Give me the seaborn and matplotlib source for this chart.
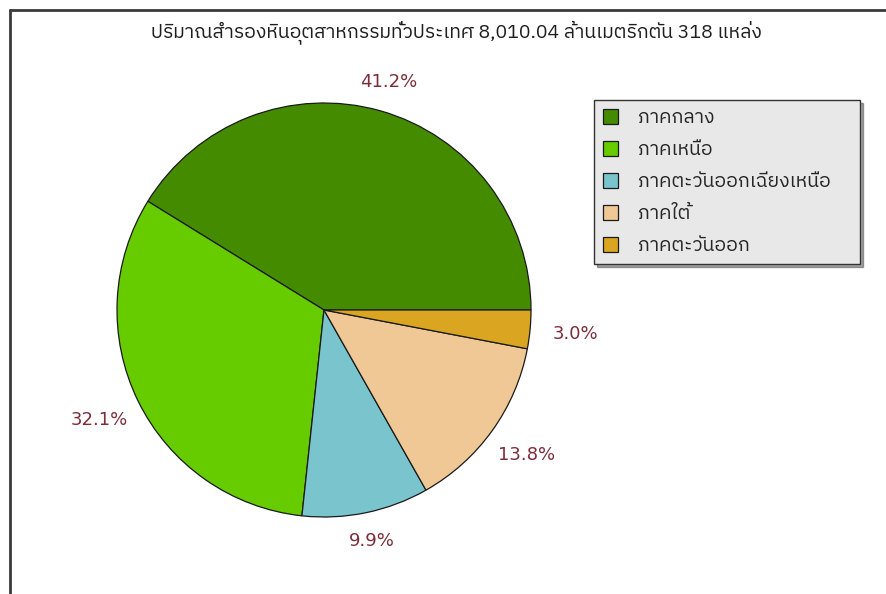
import matplotlib
matplotlib.use("Agg")
import numpy as np
import matplotlib.pyplot as plt
from matplotlib import font_manager
from matplotlib.ft2font import FT2Font
from matplotlib.lines import Line2D
import seaborn as sns

# Reserve data: share of industrial rock reserves by region (%)
regions = ["ภาคกลาง", "ภาคเหนือ", "ภาคตะวันออกเฉียงเหนือ", "ภาคใต้", "ภาคตะวันออก"]
shares = [41.2, 32.1, 9.9, 13.8, 3.0]
colors = ["#458B00", "#66CC00", "#7AC5CD", "#F0C896", "#DAA520"]
title = "ปริมาณสำรองหินอุตสาหกรรมทั่วประเทศ 8,010.04 ล้านเมตริกตัน 318 แหล่ง"

sns.set_theme(style="white")


def thai_families():
    """Names of installed fonts with Thai glyphs, proportional sans first."""
    names = []
    for path in font_manager.findSystemFonts():
        try:
            cmap = FT2Font(path).get_charmap()
        except Exception:
            continue
        if 0x0E01 in cmap and 0x0E32 in cmap and 0x0E34 in cmap:
            name = font_manager.FontProperties(fname=path).get_name()
            if name not in names:
                names.append(name)

    def rank(n):
        low = n.lower()
        r = 0
        if "mono" in low or "courier" in low:
            r += 10
        if "serif" in low and "sans" not in low:
            r += 5
        if "sans" not in low:
            r += 1
        return r

    return sorted(names, key=rank)


families = thai_families()[:1] + ["DejaVu Sans"]
plt.rcParams["font.family"] = families

W, H = 886, 594
fig = plt.figure(figsize=(W / 100, H / 100), dpi=100)

# frame around the chart area
fig.add_artist(Line2D([10 / W, 1.0], [1 - 10 / H, 1 - 10 / H], color="#3a3a3a", lw=2))
fig.add_artist(Line2D([10 / W, 10 / W], [1 - 10 / H, 0], color="#3a3a3a", lw=2))

fig.text(456 / W, 1 - 32 / H, title, ha="center", va="center", fontsize=14, color="#1e1e1e")

# pie
cx, cy, R = 324, 310, 207
pax = fig.add_axes([(cx - R) / W, 1 - (cy + R) / H, 2 * R / W, 2 * R / H])
wedges, texts, autotexts = pax.pie(
    shares, colors=colors, startangle=0, counterclock=True,
    autopct="%.1f%%", pctdistance=1.15,
    wedgeprops=dict(edgecolor="#1a1a1a", linewidth=0.9),
    textprops=dict(color="#7B2D3A", fontsize=13, family=["DejaVu Sans"]),
)
pax.set_xlim(-1, 1)
pax.set_ylim(-1, 1)
pax.set_aspect("equal")

# keep percentage labels clear of the rim: side labels sit a little further out
for w, t in zip(wedges, autotexts):
    mid = np.deg2rad((w.theta1 + w.theta2) / 2)
    d = 1.12 + 0.10 * abs(np.cos(mid))
    t.set_position((d * np.cos(mid), d * np.sin(mid)))
    t.set_ha("center")
    t.set_va("center")
    t.set_clip_on(False)

leg = fig.legend(
    wedges, regions, loc="upper left",
    bbox_to_anchor=(594 / W, 1 - 263 / H, 266 / W, 163 / H), mode="expand",
    borderaxespad=0, frameon=True, fancybox=False, shadow=True, fontsize=14,
    handlelength=0.77, handleheight=0.77, labelspacing=0.72, borderpad=0.47,
    handletextpad=1.0,
)
leg.get_frame().set_facecolor("#E8E8E8")
leg.get_frame().set_edgecolor("#333333")
leg.get_frame().set_alpha(1)

fig.savefig("out.png", dpi=100, facecolor="white")
